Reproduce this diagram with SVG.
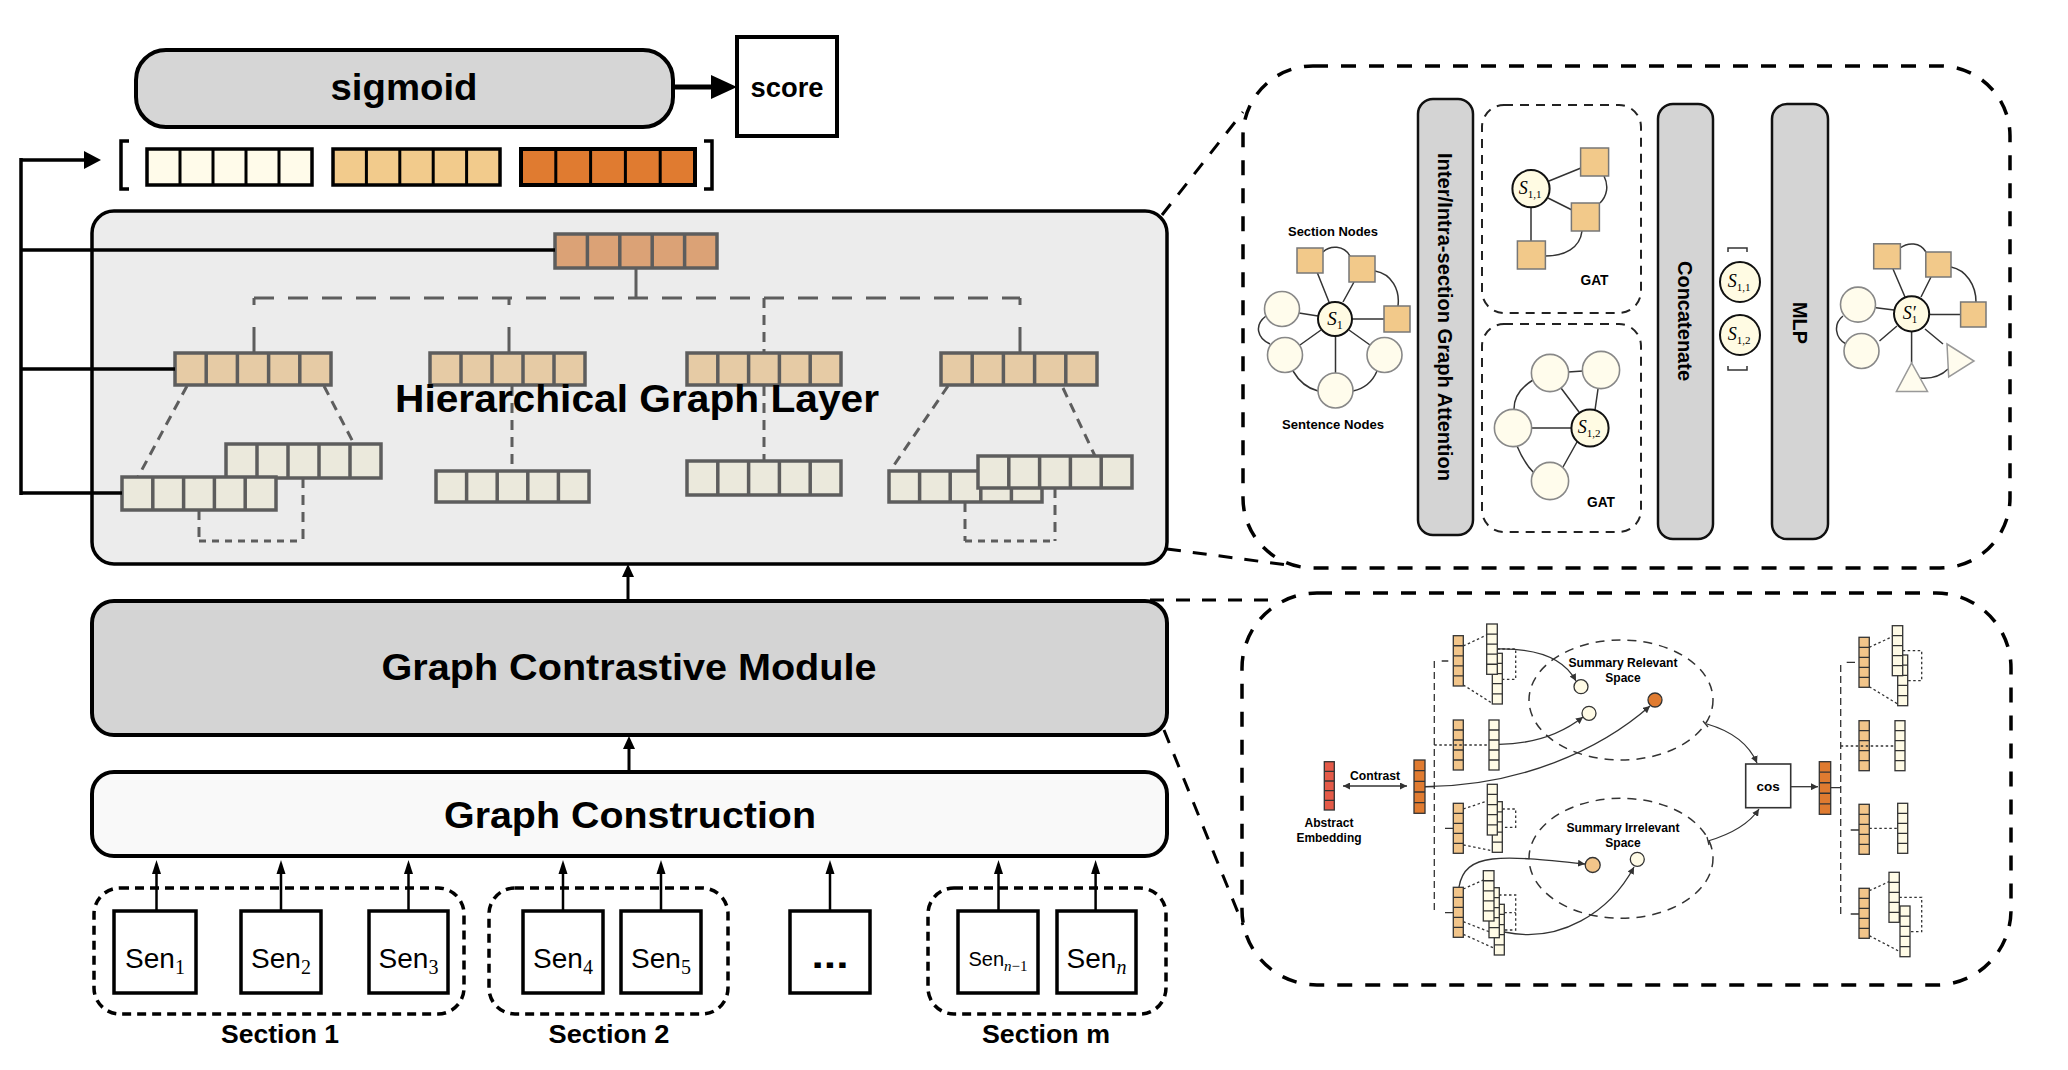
<svg xmlns="http://www.w3.org/2000/svg" width="2068" height="1070" viewBox="0 0 2068 1070">
<style>
.t{font-family:"Liberation Sans",Arial,Helvetica,sans-serif;}
.b{font-weight:bold;}
.m{font-family:"Liberation Serif","Times New Roman",serif;font-style:italic;}
.sf{font-family:"Liberation Serif","Times New Roman",serif;}
.blk{fill:none;stroke:#000;stroke-width:3.5;}
.hv{stroke:#5d5d5d;stroke-width:3.5;}
.hd{fill:none;stroke:#5d5d5d;stroke-width:3;}
.big{fill:none;stroke:#000;stroke-width:3.5;stroke-dasharray:15 13;}
.gat{fill:none;stroke:#222;stroke-width:2;stroke-dasharray:9 7;}
.bar{fill:#d4d4d4;stroke:#111;stroke-width:2.5;}
.e{fill:none;stroke:#333;stroke-width:1.5;}
.sq{fill:#f2c98a;stroke:#777;stroke-width:1.5;}
.cn{fill:#fffcec;stroke:#888;stroke-width:1.6;}
.sn{fill:#fffbe3;stroke:#111;stroke-width:2;}
.tri{fill:#fffcee;stroke:#999;stroke-width:1.5;}
.vs{stroke:#333;stroke-width:1.3;}
.dv{fill:none;stroke:#333;stroke-width:1.3;}
.dot{fill:none;stroke:#333;stroke-width:1.3;stroke-dasharray:2.5 2.5;}
.dsh{fill:none;stroke:#333;stroke-width:1.3;stroke-dasharray:7 4;}
.tan{fill:#f2c58a;}
.crm{fill:#fffbe6;}
.org{fill:#e07b30;}
.red{fill:#e45a48;}
</style>
<defs>
<marker id="ah" viewBox="0 0 10 10" refX="10" refY="5" markerWidth="7" markerHeight="7" markerUnits="userSpaceOnUse" orient="auto-start-reverse">
<path d="M0,0 L10,5 L0,10 z" fill="#333"/>
</marker>
</defs>

<!-- ===== Left column ===== -->
<g id="sigmoid">
<rect x="136" y="50" width="537" height="77" rx="30" fill="#d6d6d6" stroke="#000" stroke-width="4"/>
<text class="t b" x="404" y="100" font-size="37" text-anchor="middle" textLength="147" lengthAdjust="spacingAndGlyphs">sigmoid</text>
</g>
<g id="score">
<rect x="737" y="37" width="100" height="99" fill="#fff" stroke="#000" stroke-width="4"/>
<text class="t b" x="787" y="97" font-size="28" text-anchor="middle" textLength="73" lengthAdjust="spacingAndGlyphs">score</text>
</g>

<g id="concat-vectors">
<path d="M129,141 H121 V189 H129" class="blk"/>
<path d="M704,141 H712 V189 H704" class="blk"/>
<rect x="147" y="149" width="165" height="36" fill="#fffbea" stroke="#000" stroke-width="3.5"/>
<path d="M180,149V185M213,149V185M246,149V185M279,149V185" stroke="#000" stroke-width="3"/>
<rect x="333" y="149" width="167" height="36" fill="#f2cb8c" stroke="#000" stroke-width="3.5"/>
<path d="M366.4,149V185M399.8,149V185M433.2,149V185M466.6,149V185" stroke="#000" stroke-width="3"/>
<rect x="521" y="149" width="174" height="36" fill="#e07b30" stroke="#000" stroke-width="4"/>
<path d="M555.8,149V185M590.6,149V185M625.4,149V185M660.2,149V185" stroke="#000" stroke-width="3"/>
</g>

<g id="hgl">
<rect x="92" y="211" width="1075" height="353" rx="22" fill="#ececec" stroke="#000" stroke-width="3.5"/>
<!-- tree lines -->
<path d="M636,268 V298" class="hd"/>
<path d="M254,298 H1020" class="hd" stroke-dasharray="20 14"/>
<path d="M254,298V305M509,298V305M1020,298V305" class="hd"/>
<path d="M254,327V353M509,327V353M1020,327V353" class="hd"/>
<path d="M764,298V353" class="hd" stroke-dasharray="10 7"/>
<path d="M187,386 L138,477 M324,386 L354,444 M948,386 L890,471 M1063,388 L1095,456" class="hd" stroke-dasharray="10 7"/>
<path d="M512,386 V471 M764,386 V461" class="hd" stroke-dasharray="10 7"/>
<path d="M199,510 V541 M303,478 V541 M965,502 V541 M1055,488 V541" class="hd" stroke-dasharray="10 7"/>
<path d="M199,541 H303 M965,541 H1055" class="hd" stroke-dasharray="7 6"/>
<!-- top vector -->
<rect x="555" y="234" width="162" height="34" fill="#dba276" class="hv"/>
<path d="M587.4,234V268M619.8,234V268M652.2,234V268M684.6,234V268" class="hv"/>
<!-- mid vectors -->
<rect x="175" y="353" width="156" height="32" fill="#e6cba5" class="hv"/>
<path d="M206.2,353V385M237.4,353V385M268.6,353V385M299.8,353V385" class="hv"/>
<rect x="430" y="353" width="155" height="32" fill="#e6cba5" class="hv"/>
<path d="M461,353V385M492,353V385M523,353V385M554,353V385" class="hv"/>
<rect x="687" y="353" width="154" height="32" fill="#e6cba5" class="hv"/>
<path d="M717.8,353V385M748.6,353V385M779.4,353V385M810.2,353V385" class="hv"/>
<rect x="941" y="353" width="156" height="32" fill="#e6cba5" class="hv"/>
<path d="M972.2,353V385M1003.4,353V385M1034.6,353V385M1065.8,353V385" class="hv"/>
<!-- bottom vectors -->
<rect x="226" y="444" width="155" height="34" fill="#ebe9dc" class="hv"/>
<path d="M257,444V478M288,444V478M319,444V478M350,444V478" class="hv"/>
<rect x="122" y="477" width="154" height="33" fill="#ebe9dc" class="hv"/>
<path d="M152.8,477V510M183.6,477V510M214.4,477V510M245.2,477V510" class="hv"/>
<rect x="436" y="471" width="153" height="31" fill="#ebe9dc" class="hv"/>
<path d="M466.6,471V502M497.2,471V502M527.8,471V502M558.4,471V502" class="hv"/>
<rect x="687" y="461" width="154" height="34" fill="#ebe9dc" class="hv"/>
<path d="M717.8,461V495M748.6,461V495M779.4,461V495M810.2,461V495" class="hv"/>
<rect x="889" y="471" width="153" height="31" fill="#ebe9dc" class="hv"/>
<path d="M919.6,471V502M950.2,471V502M980.8,471V502M1011.4,471V502" class="hv"/>
<rect x="978" y="456" width="154" height="32" fill="#ebe9dc" class="hv"/>
<path d="M1008.8,456V488M1039.6,456V488M1070.4,456V488M1101.2,456V488" class="hv"/>
<text class="t b" x="637" y="412" font-size="39" text-anchor="middle" textLength="484" lengthAdjust="spacingAndGlyphs">Hierarchical Graph Layer</text>
</g>

<g id="gcm">
<rect x="92" y="601" width="1075" height="134" rx="22" fill="#d4d4d4" stroke="#000" stroke-width="4"/>
<text class="t b" x="629" y="680" font-size="37" text-anchor="middle" textLength="495" lengthAdjust="spacingAndGlyphs">Graph Contrastive Module</text>
</g>
<g id="gc">
<rect x="92" y="772" width="1075" height="84" rx="22" fill="#f9f9f9" stroke="#000" stroke-width="4"/>
<text class="t b" x="630" y="828" font-size="37" text-anchor="middle" textLength="372" lengthAdjust="spacingAndGlyphs">Graph Construction</text>
</g>

<g id="section1">
<rect x="94" y="888" width="370" height="126" rx="26" class="blk" stroke-dasharray="9 6"/>
<text class="t b" x="280" y="1043" font-size="25" text-anchor="middle" textLength="118" lengthAdjust="spacingAndGlyphs">Section 1</text>
</g>
<g id="section2">
<rect x="489" y="888" width="239" height="126" rx="26" class="blk" stroke-dasharray="9 6"/>
<text class="t b" x="609" y="1043" font-size="25" text-anchor="middle" textLength="121" lengthAdjust="spacingAndGlyphs">Section 2</text>
</g>
<g id="sectionm">
<rect x="928" y="888" width="238" height="126" rx="26" class="blk" stroke-dasharray="9 6"/>
<text class="t b" x="1046" y="1043" font-size="25" text-anchor="middle" textLength="128" lengthAdjust="spacingAndGlyphs">Section m</text>
</g>

<g id="sen1"><rect x="114" y="911" width="82" height="82" fill="#fff" stroke="#000" stroke-width="3.5"/>
<text class="t" x="155" y="968" font-size="28" text-anchor="middle">Sen<tspan class="sf" font-size="20" dy="6">1</tspan></text></g>
<g id="sen2"><rect x="241" y="911" width="80" height="82" fill="#fff" stroke="#000" stroke-width="3.5"/>
<text class="t" x="281" y="968" font-size="28" text-anchor="middle">Sen<tspan class="sf" font-size="20" dy="6">2</tspan></text></g>
<g id="sen3"><rect x="369" y="911" width="79" height="82" fill="#fff" stroke="#000" stroke-width="3.5"/>
<text class="t" x="408.5" y="968" font-size="28" text-anchor="middle">Sen<tspan class="sf" font-size="20" dy="6">3</tspan></text></g>
<g id="sen4"><rect x="523" y="911" width="80" height="82" fill="#fff" stroke="#000" stroke-width="3.5"/>
<text class="t" x="563" y="968" font-size="28" text-anchor="middle">Sen<tspan class="sf" font-size="20" dy="6">4</tspan></text></g>
<g id="sen5"><rect x="621" y="911" width="80" height="82" fill="#fff" stroke="#000" stroke-width="3.5"/>
<text class="t" x="661" y="968" font-size="28" text-anchor="middle">Sen<tspan class="sf" font-size="20" dy="6">5</tspan></text></g>
<g id="sendots"><rect x="790" y="911" width="80" height="82" fill="#fff" stroke="#000" stroke-width="3.5"/>
<text class="t b" x="830" y="968" font-size="36" text-anchor="middle" textLength="37" lengthAdjust="spacingAndGlyphs">...</text></g>
<g id="senn1"><rect x="958" y="911" width="80" height="82" fill="#fff" stroke="#000" stroke-width="3.5"/>
<text class="t" x="998" y="966" font-size="20" text-anchor="middle">Sen<tspan class="sf" font-size="15" dy="5"><tspan font-style="italic">n</tspan>−1</tspan></text></g>
<g id="senn"><rect x="1057" y="911" width="79" height="82" fill="#fff" stroke="#000" stroke-width="3.5"/>
<text class="t" x="1096.5" y="968" font-size="28" text-anchor="middle">Sen<tspan class="m" font-size="20" dy="6">n</tspan></text></g>

<!-- ===== Top right panel ===== -->
<g id="panel-hgl">
<rect x="1243" y="66" width="767" height="502" rx="70" class="big"/>
</g>
<g id="graph-input">
<path class="e" d="M1317,272 L1329,302 M1354,282 L1343,302 M1352,319 L1384,319 M1299,313 L1318,316 M1300,345 L1321,330 M1335.5,336 L1335.5,373 M1349,330 L1370,345"/>
<path class="e" d="M1323,252 C1330,245 1344,245 1350,256 M1375,271 C1392,274 1400,290 1398,306 M1266,316 C1254,325 1257,338 1270,344 M1293,371 C1300,383 1310,389 1318,391 M1353,391 C1362,389 1372,383 1377,371"/>
<rect class="sq" x="1297" y="248" width="26" height="25"/>
<rect class="sq" x="1349" y="256" width="26" height="26"/>
<rect class="sq" x="1384" y="306" width="26" height="26"/>
<circle class="cn" cx="1282" cy="309" r="17.5"/>
<circle class="cn" cx="1285" cy="355" r="17.5"/>
<circle class="cn" cx="1335.5" cy="390.5" r="17.5"/>
<circle class="cn" cx="1384.5" cy="355" r="17.5"/>
<circle class="sn" cx="1335" cy="319" r="17"/>
<text class="m" x="1335" y="325" font-size="19" text-anchor="middle">S<tspan font-style="normal" font-size="12" dy="4">1</tspan></text>
<text class="t b" x="1333" y="236" font-size="13" text-anchor="middle" textLength="90" lengthAdjust="spacingAndGlyphs">Section Nodes</text>
<text class="t b" x="1333" y="429" font-size="13" text-anchor="middle" textLength="102" lengthAdjust="spacingAndGlyphs">Sentence Nodes</text>
</g>
<g id="bar-attention">
<rect class="bar" x="1418" y="99" width="55" height="436" rx="15"/>
<text class="t b" transform="translate(1437.5,317) rotate(90)" font-size="21" text-anchor="middle" textLength="328" lengthAdjust="spacingAndGlyphs">Inter/Intra-section Graph Attention</text>
</g>
<g id="gat1">
<rect x="1482" y="105" width="159" height="208" rx="22" class="gat"/>
<path class="e" d="M1549,181 L1581,168 M1548,198 L1572,210 M1531,207 L1531,241"/>
<path class="e" d="M1604,176 C1609,186 1607,196 1600,203 M1582,231 C1580,248 1565,256 1545,256"/>
<rect class="sq" x="1580.6" y="148" width="28" height="28"/>
<rect class="sq" x="1571.4" y="203" width="28" height="28"/>
<rect class="sq" x="1517.4" y="241" width="28" height="28"/>
<circle class="sn" cx="1531" cy="188.7" r="18.6"/>
<text class="m" x="1530" y="194" font-size="18" text-anchor="middle">S<tspan font-style="normal" font-size="11" dy="4">1,1</tspan></text>
<text class="t b" x="1594.5" y="285" font-size="14" text-anchor="middle" textLength="28" lengthAdjust="spacingAndGlyphs">GAT</text>
</g>
<g id="gat2">
<rect x="1482" y="324" width="159" height="208" rx="22" class="gat"/>
<path class="e" d="M1568,372 L1583,371 M1561,388 L1579,412 M1598,389 L1595,410 M1532,428 L1571,428 M1577,442 L1563,467"/>
<path class="e" d="M1533,380 C1520,388 1514,398 1514,409 M1517,446 C1522,458 1528,467 1534,473"/>
<circle class="cn" cx="1550" cy="373" r="18.6"/>
<circle class="cn" cx="1601" cy="370" r="18.6"/>
<circle class="cn" cx="1513" cy="428" r="18.6"/>
<circle class="cn" cx="1550" cy="481" r="18.6"/>
<circle class="sn" cx="1590" cy="428" r="18.6"/>
<text class="m" x="1589" y="433" font-size="18" text-anchor="middle">S<tspan font-style="normal" font-size="11" dy="4">1,2</tspan></text>
<text class="t b" x="1601" y="507" font-size="14" text-anchor="middle" textLength="28" lengthAdjust="spacingAndGlyphs">GAT</text>
</g>
<g id="bar-concat">
<rect class="bar" x="1658" y="104" width="55" height="435" rx="15"/>
<text class="t b" transform="translate(1678,321) rotate(90)" font-size="20" text-anchor="middle" textLength="120" lengthAdjust="spacingAndGlyphs">Concatenate</text>
</g>
<g id="concat-nodes">
<path d="M1728,252 V248 H1747 V252 M1728,366 V370 H1747 V366" fill="none" stroke="#333" stroke-width="1.5"/>
<circle class="sn" cx="1740" cy="282" r="20"/>
<text class="m" x="1739" y="287" font-size="18" text-anchor="middle">S<tspan font-style="normal" font-size="11" dy="4">1,1</tspan></text>
<circle class="sn" cx="1740" cy="335" r="20"/>
<text class="m" x="1739" y="340" font-size="18" text-anchor="middle">S<tspan font-style="normal" font-size="11" dy="4">1,2</tspan></text>
</g>
<g id="bar-mlp">
<rect class="bar" x="1772" y="104" width="56" height="435" rx="15"/>
<text class="t b" transform="translate(1793,323) rotate(90)" font-size="20" text-anchor="middle" textLength="42" lengthAdjust="spacingAndGlyphs">MLP</text>
</g>
<g id="graph-output">
<path class="e" d="M1893,269 L1905,297 M1931,277 L1921,297 M1930,314.5 L1960.6,314.5 M1876,307.7 L1894,310 M1879.5,341 L1897,326 M1911.6,331.4 L1911.6,363 M1925,329 L1943,344"/>
<path class="e" d="M1900,248 C1908,242 1920,242 1926,252 M1951,267 C1966,270 1976,285 1976,302 M1843,316 C1833,324 1835,338 1846,344 M1920,378 C1932,379 1942,375 1948,369"/>
<rect class="sq" x="1873.7" y="243.8" width="26.7" height="25"/>
<rect class="sq" x="1925.8" y="252" width="25.2" height="25"/>
<rect class="sq" x="1960.6" y="302" width="25.4" height="25"/>
<circle class="cn" cx="1858" cy="304.6" r="17.5"/>
<circle class="cn" cx="1861.5" cy="351" r="17.5"/>
<polygon class="tri" points="1911.6,362.8 1927.5,391.5 1896.4,391.5"/>
<polygon class="tri" points="1947,344 1974,361 1948.7,377"/>
<circle class="sn" cx="1911.6" cy="313.8" r="17.6"/>
<text class="m" x="1910" y="319" font-size="18" text-anchor="middle">S′<tspan font-style="normal" font-size="11" dx="-4" dy="4">1</tspan></text>
</g>

<!-- ===== Bottom right panel ===== -->
<g id="panel-gcm">
<rect x="1242" y="593" width="769" height="392" rx="75" class="big"/>
</g>
<g id="abstract-embedding">
<rect class="red vs" x="1324.3" y="761.7" width="10" height="48.3"/>
<path class="vs" d="M1324.3,771.36h10M1324.3,781.02h10M1324.3,790.68h10M1324.3,800.34h10"/>
<text class="t b" x="1329" y="827" font-size="12" text-anchor="middle" textLength="49" lengthAdjust="spacingAndGlyphs">Abstract</text>
<text class="t b" x="1329" y="842" font-size="12" text-anchor="middle" textLength="65" lengthAdjust="spacingAndGlyphs">Embedding</text>
</g>
<g id="contrast-label">
<text class="t b" x="1375" y="780" font-size="12" text-anchor="middle" textLength="50" lengthAdjust="spacingAndGlyphs">Contrast</text>
</g>
<g id="doc-embedding-left">
<rect class="org vs" x="1414" y="760" width="11" height="53.3"/>
<path class="vs" d="M1414,770.66h11M1414,781.32h11M1414,791.98h11M1414,802.64h11"/>
</g>
<g id="left-rows">
<path class="dsh" d="M1434.3,661 V913"/>
<path class="dv" d="M1441.7,661 H1448.3 M1445,828.3 H1453.3 M1445,912.7 H1453.3"/>
<!-- row1 -->
<path class="dot" d="M1463.3,646 L1486.7,635 M1463.3,685 L1492.3,703.3 M1497.3,649 H1515.7 V679.3 H1502.3"/>
<rect class="tan vs" x="1453.3" y="635.7" width="10" height="50.3"/>
<path class="vs" d="M1453.3,645.76h10M1453.3,655.82h10M1453.3,665.88h10M1453.3,675.94h10"/>
<rect class="crm vs" x="1492.3" y="653.3" width="10" height="50.7"/>
<path class="vs" d="M1492.3,663.44h10M1492.3,673.58h10M1492.3,683.72h10M1492.3,693.86h10"/>
<rect class="crm vs" x="1486.7" y="624" width="10.6" height="50.3"/>
<path class="vs" d="M1486.7,634.06h10.6M1486.7,644.12h10.6M1486.7,654.18h10.6M1486.7,664.24h10.6"/>
<!-- row2 -->
<rect class="tan vs" x="1453.3" y="720" width="10" height="50"/>
<path class="vs" d="M1453.3,730h10M1453.3,740h10M1453.3,750h10M1453.3,760h10"/>
<rect class="crm vs" x="1489" y="720" width="10" height="50"/>
<path class="vs" d="M1489,730h10M1489,740h10M1489,750h10M1489,760h10"/>
<path class="dot" d="M1434.3,745 H1489"/>
<!-- row3 -->
<path class="dot" d="M1463.3,809 L1487.3,801 M1463.3,845 L1492.3,850.7 M1497.3,809 H1515.7 V827.3 H1502.3"/>
<rect class="tan vs" x="1453.3" y="803.3" width="10" height="50"/>
<path class="vs" d="M1453.3,813.3h10M1453.3,823.3h10M1453.3,833.3h10M1453.3,843.3h10"/>
<rect class="crm vs" x="1492.3" y="801.7" width="10" height="50.6"/>
<path class="vs" d="M1492.3,811.82h10M1492.3,821.94h10M1492.3,832.06h10M1492.3,842.18h10"/>
<rect class="crm vs" x="1487.3" y="784.3" width="10" height="50.7"/>
<path class="vs" d="M1487.3,794.44h10M1487.3,804.58h10M1487.3,814.72h10M1487.3,824.86h10"/>
<!-- row4 -->
<path class="dot" d="M1463.3,889 L1483.3,880 M1463.3,921.7 L1489,931.7 M1463.3,934.3 L1494.3,948.3 M1494,895 H1515.7 V930 H1504.3 M1504.3,912.7 H1515.7"/>
<rect class="tan vs" x="1453.3" y="887.3" width="10" height="50"/>
<path class="vs" d="M1453.3,897.3h10M1453.3,907.3h10M1453.3,917.3h10M1453.3,927.3h10"/>
<rect class="crm vs" x="1494.3" y="904.3" width="10" height="50.7"/>
<path class="vs" d="M1494.3,914.44h10M1494.3,924.58h10M1494.3,934.72h10M1494.3,944.86h10"/>
<rect class="crm vs" x="1489" y="887.7" width="10.3" height="50"/>
<path class="vs" d="M1489,897.7h10.3M1489,907.7h10.3M1489,917.7h10.3M1489,927.7h10.3"/>
<rect class="crm vs" x="1483.3" y="870.7" width="10.7" height="50.3"/>
<path class="vs" d="M1483.3,880.76h10.7M1483.3,890.82h10.7M1483.3,900.88h10.7M1483.3,910.94h10.7"/>
</g>
<g id="relevant-space">
<ellipse cx="1621" cy="700" rx="92" ry="60" fill="none" stroke="#333" stroke-width="1.5" stroke-dasharray="9 7"/>
<text class="t b" x="1623" y="667" font-size="12" text-anchor="middle" textLength="109" lengthAdjust="spacingAndGlyphs">Summary Relevant</text>
<text class="t b" x="1623" y="682" font-size="12" text-anchor="middle">Space</text>
<circle class="crm vs" cx="1581" cy="686.7" r="7"/>
<circle class="crm vs" cx="1589" cy="713.3" r="7"/>
<circle class="org vs" cx="1655" cy="700" r="7"/>
</g>
<g id="irrelevant-space">
<ellipse cx="1621" cy="858.3" rx="92" ry="60" fill="none" stroke="#333" stroke-width="1.5" stroke-dasharray="9 7"/>
<text class="t b" x="1623" y="832" font-size="12" text-anchor="middle" textLength="113" lengthAdjust="spacingAndGlyphs">Summary Irrelevant</text>
<text class="t b" x="1623" y="847" font-size="12" text-anchor="middle">Space</text>
<circle class="tan vs" cx="1592.7" cy="865" r="7.5"/>
<circle class="crm vs" cx="1637.3" cy="859.3" r="7"/>
</g>
<g id="cos">
<rect x="1745.7" y="764" width="45" height="43.7" fill="#fff" stroke="#333" stroke-width="1.6"/>
<text class="t b" x="1768.2" y="791" font-size="13.5" text-anchor="middle">cos</text>
</g>
<g id="doc-embedding-right">
<rect class="org vs" x="1819.3" y="761.7" width="11.4" height="52.6"/>
<path class="vs" d="M1819.3,772.22h11.4M1819.3,782.74h11.4M1819.3,793.26h11.4M1819.3,803.78h11.4"/>
</g>
<g id="right-rows">
<path class="dsh" d="M1840.7,665 V914"/>
<path class="dv" d="M1846.7,662.3 H1855 M1850.7,830 H1859 M1850.7,914 H1859 M1830.7,787.7 H1840.7"/>
<!-- row1 -->
<path class="dot" d="M1869.3,647.3 L1892.3,636.7 M1869.3,686.7 L1897.7,704 M1902.7,650.7 H1921.7 V680.7 H1907.7"/>
<rect class="tan vs" x="1859" y="637.3" width="10.3" height="50"/>
<path class="vs" d="M1859,647.3h10.3M1859,657.3h10.3M1859,667.3h10.3M1859,677.3h10.3"/>
<rect class="crm vs" x="1897.7" y="655" width="10" height="50.7"/>
<path class="vs" d="M1897.7,665.14h10M1897.7,675.28h10M1897.7,685.42h10M1897.7,695.56h10"/>
<rect class="crm vs" x="1892.3" y="625.7" width="10.4" height="50"/>
<path class="vs" d="M1892.3,635.7h10.4M1892.3,645.7h10.4M1892.3,655.7h10.4M1892.3,665.7h10.4"/>
<!-- row2 -->
<rect class="tan vs" x="1859" y="720.7" width="10.3" height="50"/>
<path class="vs" d="M1859,730.7h10.3M1859,740.7h10.3M1859,750.7h10.3M1859,760.7h10.3"/>
<rect class="crm vs" x="1895" y="720.7" width="10" height="50"/>
<path class="vs" d="M1895,730.7h10M1895,740.7h10M1895,750.7h10M1895,760.7h10"/>
<path class="dot" d="M1840.7,746 H1895"/>
<!-- row3 -->
<rect class="tan vs" x="1859" y="804.3" width="10.3" height="50"/>
<path class="vs" d="M1859,814.3h10.3M1859,824.3h10.3M1859,834.3h10.3M1859,844.3h10.3"/>
<rect class="crm vs" x="1897.7" y="803.3" width="10" height="50"/>
<path class="vs" d="M1897.7,813.3h10M1897.7,823.3h10M1897.7,833.3h10M1897.7,843.3h10"/>
<path class="dot" d="M1869.3,828.3 H1897.7"/>
<!-- row4 -->
<path class="dot" d="M1869.3,890.7 L1889,881.7 M1869.3,935.7 L1900,951.7 M1899.3,897.3 H1921.7 V931.7 H1910"/>
<rect class="tan vs" x="1859" y="888.3" width="10.3" height="50"/>
<path class="vs" d="M1859,898.3h10.3M1859,908.3h10.3M1859,918.3h10.3M1859,928.3h10.3"/>
<rect class="crm vs" x="1889" y="872.3" width="10.3" height="50"/>
<path class="vs" d="M1889,882.3h10.3M1889,892.3h10.3M1889,902.3h10.3M1889,912.3h10.3"/>
<rect class="crm vs" x="1900" y="906" width="10" height="50.7"/>
<path class="vs" d="M1900,916.14h10M1900,926.28h10M1900,936.42h10M1900,946.56h10"/>
</g>

<!-- ===== Connectors ===== -->
<g id="connectors">
<!-- sigmoid to score -->
<path d="M673,87 H713" stroke="#000" stroke-width="5" fill="none"/>
<polygon points="711,75 737,87 711,99" fill="#000"/>
<!-- feedback lines to concat -->
<path d="M21,158 V495 M21,160 H86 M21,250 H555 M21,369 H175 M21,493 H122" fill="none" stroke="#000" stroke-width="3.5"/>
<polygon points="84,151 101,160 84,169" fill="#000"/>
<!-- GCM to HGL -->
<path d="M628,601 V575" stroke="#000" stroke-width="3" fill="none"/>
<polygon points="622,577 628,564 634,577" fill="#000"/>
<!-- GC to GCM -->
<path d="M629,772 V747" stroke="#000" stroke-width="3" fill="none"/>
<polygon points="623,749 629,736 635,749" fill="#000"/>
<!-- sentences to GC -->
<g stroke="#000" stroke-width="2.5" fill="none">
<path d="M156.5,911V872M281,911V872M408.5,911V872M563,911V872M661,911V872M830,911V872M998.5,911V872M1095.6,911V872"/>
</g>
<g fill="#000">
<polygon points="152,874 156.5,860 161,874"/>
<polygon points="276.5,874 281,860 285.5,874"/>
<polygon points="404,874 408.5,860 413,874"/>
<polygon points="558.5,874 563,860 567.5,874"/>
<polygon points="656.5,874 661,860 665.5,874"/>
<polygon points="825.5,874 830,860 834.5,874"/>
<polygon points="994,874 998.5,860 1003,874"/>
<polygon points="1091.1,874 1095.6,860 1100.1,874"/>
</g>
<!-- zoom connectors -->
<path d="M1162,215 L1243,112 M1167,549 L1295,566 M1150,600 L1280,600 M1164,730 L1243,925" fill="none" stroke="#000" stroke-width="3" stroke-dasharray="14 12"/>
<!-- bottom panel arrows -->
<path d="M1343,786 H1407" class="dv" marker-start="url(#ah)" marker-end="url(#ah)"/>
<path d="M1425,786.7 H1434.3" class="dv"/>
<path d="M1497.3,649 C1540,648 1565,660 1576,681" class="dv" marker-end="url(#ah)"/>
<path d="M1499,744.3 C1530,744 1560,735 1583,717" class="dv" marker-end="url(#ah)"/>
<path d="M1425,786.7 C1520,786 1600,750 1650,706" class="dv" marker-end="url(#ah)"/>
<path d="M1459,887 C1465,852 1500,855 1585,864" class="dv" marker-end="url(#ah)"/>
<path d="M1504,932 C1560,944 1610,912 1634,867" class="dv" marker-end="url(#ah)"/>
<path d="M1707,724 Q1745,735 1757,763" class="dv" marker-end="url(#ah)"/>
<path d="M1703,721 L1708,727" class="dv"/>
<path d="M1708,841 Q1745,830 1759,809" class="dv" marker-end="url(#ah)"/>
<path d="M1707,837 L1709,845" class="dv"/>
<path d="M1790.7,786.7 H1818" class="dv" marker-end="url(#ah)"/>
</g>
</svg>
